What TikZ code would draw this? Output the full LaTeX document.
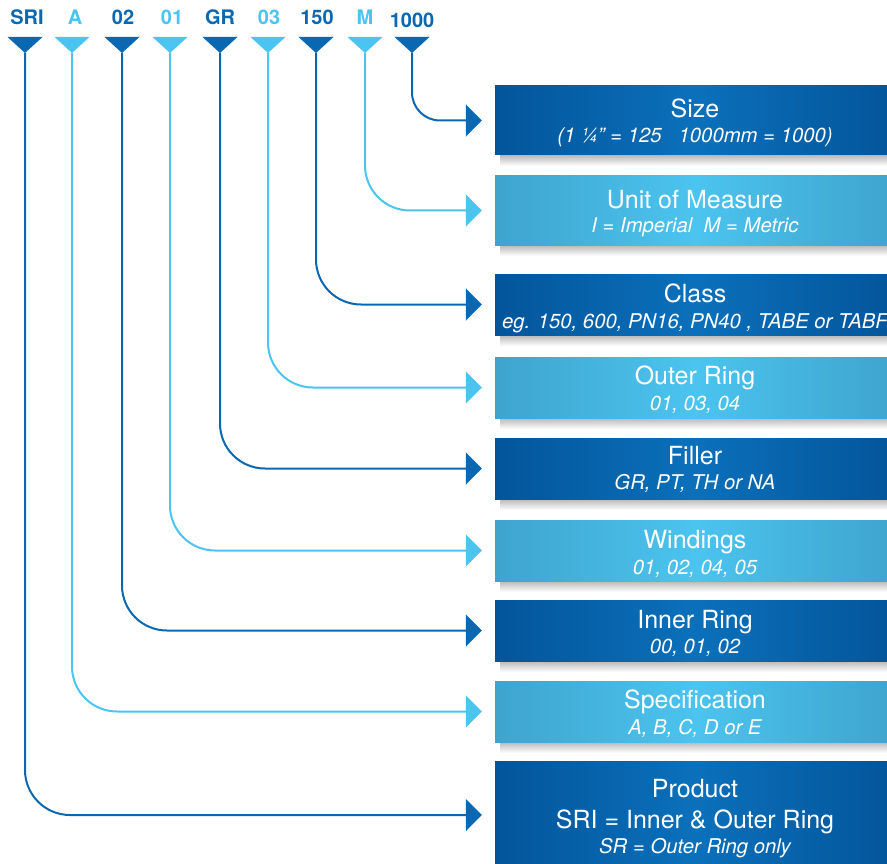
\documentclass[tikz,border=0pt]{standalone}
\usepackage{fontspec}
\setmainfont{TeX Gyre Heros}
\usetikzlibrary{arrows.meta}
\definecolor{dkb}{HTML}{0A68B2}
\definecolor{ltb}{HTML}{4CC4F2}
\definecolor{dkedge}{HTML}{03559A}
\definecolor{dkmid}{HTML}{0B70BB}
\definecolor{ltedge}{HTML}{3EA4CE}
\definecolor{ltmid}{HTML}{4BC4EF}
\tikzset{
  code/.style={font=\fontsize{20}{20}\selectfont\bfseries, anchor=base, inner sep=0pt},
  wire/.style={line width=2pt, rounded corners=45pt, shorten >=13pt,
    -{Triangle[length=16pt,width=32pt]}},
  dkbox/.style={rectangle, minimum width=400pt, inner sep=0pt,
    left color=dkedge, right color=dkedge, middle color=dkmid},
  ltbox/.style={rectangle, minimum width=400pt, inner sep=0pt,
    left color=ltedge, right color=ltedge, middle color=ltmid},
  ttl/.style={text=white, anchor=base, inner sep=0pt, font=\fontsize{25}{25}\selectfont},
  sub/.style={text=white, anchor=base, inner sep=0pt, font=\fontsize{20.3}{20}\selectfont\itshape},
}
\begin{document}
\begin{tikzpicture}[x=1pt, y=-1pt]
  \useasboundingbox (0,0) rectangle (887,864);
  \clip (0,0) rectangle (887,864);
  % Codes en haut
  \foreach \n/\t/\x/\tx/\ty/\c in {SRI/SRI/25/27/25/dkb, A/A/72/75/25/ltb, 02/02/122/123/25/dkb,
      01/01/170/172/25/ltb, GR/GR/220/220/25/dkb, 03/03/268/269/25/ltb,
      150/150/316/317/25/dkb, M/M/365/365/25/ltb, 1000/1000/412/412/28/dkb}
  {
    \node [code, text=\c] (l\n) at (\tx,\ty) {\t};
    \fill [\c] (\x-17.5,37) -- (\x+17.5,37) -- (\x,53) -- cycle;
    \coordinate (p\n) at (\x,53);
  }
  % Ombres
  \foreach \b in {155,245,335,418,499,581,661,742}
    \shade [top color=black!28, bottom color=white] (500,\b) rectangle (890,\b+11);
  % Boites
  \node [dkbox, minimum height=69pt] (bSize) at (695,120.5) {};
  \node [ttl] (tSize) at (695,118) {Size};
  \node [sub] (sSize) at (695,143) {(1 ¼” = 125\ \ \ 1000mm = 1000)};
  \node [ltbox, minimum height=69pt] (bUnit) at (695,210.5) {};
  \node [ttl] (tUnit) at (695,208) {Unit of Measure};
  \node [sub] (sUnit) at (695,233) {I = Imperial\ \ M = Metric};
  \node [dkbox, minimum height=61pt] (bClass) at (695,304.5) {};
  \node [ttl] (tClass) at (695,302) {Class};
  \node [sub] (sClass) at (695,328) {eg. 150, 600, PN16, PN40 , TABE or TABF};
  \node [ltbox, minimum height=61pt] (bOuter) at (695,387.5) {};
  \node [ttl] (tOuter) at (695,384) {Outer Ring};
  \node [sub] (sOuter) at (695,410) {01, 03, 04};
  \node [dkbox, minimum height=61pt] (bFiller) at (695,468.5) {};
  \node [ttl] (tFiller) at (695,464) {Filler};
  \node [sub] (sFiller) at (695,489) {GR, PT, TH or NA};
  \node [ltbox, minimum height=61pt] (bWind) at (695,550.5) {};
  \node [ttl] (tWind) at (695,548) {Windings};
  \node [sub] (sWind) at (695,574) {01, 02, 04, 05};
  \node [dkbox, minimum height=61pt] (bInner) at (695,630.5) {};
  \node [ttl] (tInner) at (695,628) {Inner Ring};
  \node [sub] (sInner) at (695,653) {00, 01, 02};
  \node [ltbox, minimum height=61pt] (bSpec) at (695,711.5) {};
  \node [ttl] (tSpec) at (695,708) {Specification};
  \node [sub] (sSpec) at (695,734) {A, B, C, D or E};
  \node [dkbox, minimum height=108pt] (bProd) at (695,815) {};
  \node [ttl] (tProd) at (695,797) {Product};
  \node [ttl] (mProd) at (695,828) {SRI = Inner \& Outer Ring};
  \node [sub] (sProd) at (695,853) {SR = Outer Ring only};
  % Liaisons
  \draw [wire, dkb] (pSRI) |- (bProd.west);
  \draw [wire, ltb] (pA) |- (bSpec.west);
  \draw [wire, dkb] (p02) |- (bInner.west);
  \draw [wire, ltb] (p01) |- (bWind.west);
  \draw [wire, dkb] (pGR) |- (bFiller.west);
  \draw [wire, ltb] (p03) |- (bOuter.west);
  \draw [wire, dkb] (p150) |- (bClass.west);
  \draw [wire, ltb] (pM) |- (bUnit.west);
  \draw [wire, dkb, rounded corners=28pt] (p1000) |- (bSize.west);
\end{tikzpicture}
\end{document}
